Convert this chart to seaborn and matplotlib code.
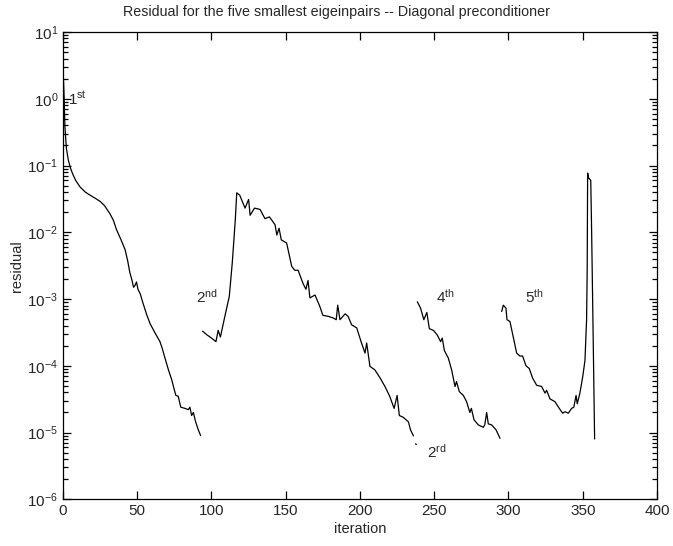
import matplotlib
matplotlib.use("Agg")
import numpy as np
import pandas as pd
import matplotlib.pyplot as plt
import matplotlib.ticker as mticker
import seaborn as sns

# residual history, one piece per eigenpair
it_1st = [0.3, 0.8, 1.3, 2.3, 3.6, 5, 6.5, 8.5, 11.4, 15, 18.2, 22, 25, 28, 31.6, 34, 36, 39, 41.8,
          43.5, 45, 46.5, 47.5, 48.5, 49.5, 50.5, 52, 54, 56.4, 58.6, 62, 65.3, 66.9, 68.7, 71,
          73.2, 74.7, 76, 77.6, 79.3, 82.2, 84.4, 85.5, 86.6, 87.8, 89.3, 91.1, 92.7]
res_1st = [2.0, 1.0, 0.38, 0.18, 0.12, 0.092, 0.075, 0.06, 0.048, 0.040, 0.036, 0.032, 0.029,
           0.025, 0.019, 0.015, 0.011, 0.0078, 0.0055, 0.0038, 0.0025, 0.0019, 0.0015, 0.0016,
           0.0018, 0.0014, 0.0012, 0.00085, 0.00058, 0.00043, 0.00031, 0.00023, 0.00018,
           0.00013, 8.7e-5, 6.2e-5, 4.6e-5, 3.6e-5, 3.5e-5, 2.4e-5, 2.3e-5, 2.2e-5, 2.4e-5,
           1.8e-5, 2.0e-5, 1.45e-5, 1.1e-5, 9.0e-6]

it_2nd = [94, 97, 100, 103, 104.5, 106, 109, 112, 114, 116, 117, 119, 122.6, 125, 126, 129,
          132.7, 136, 139, 142.8, 144, 145.5, 147, 150.6, 154, 156, 158.3, 161.7, 163.6, 165,
          166.3, 169.7, 173, 175, 178.7, 182, 184, 185, 186.5, 190, 192, 194.4, 197.8, 201,
          203.4, 204.5, 206.7, 210, 213.5, 216.8, 220, 223, 225, 226.5, 229, 232.6, 234, 236]
res_2nd = [3.3e-4, 2.9e-4, 2.6e-4, 2.3e-4, 3.4e-4, 2.7e-4, 5.5e-4, 1.1e-3, 3.5e-3, 0.015,
           0.039, 0.036, 0.023, 0.031, 0.018, 0.023, 0.022, 0.016, 0.017, 0.013, 0.0091,
           0.0115, 0.0077, 0.0069, 0.0031, 0.0027, 0.0027, 0.0017, 0.0014, 0.0019, 0.00104,
           0.00115, 0.00077, 0.00057, 0.00055, 0.00052, 0.00049, 0.00081, 0.00049, 0.0006,
           0.00055, 0.00041, 0.00037, 0.00022, 0.000155, 0.00022, 9.8e-5, 8.7e-5, 6.6e-5,
           4.9e-5, 3.5e-5, 2.3e-5, 3.6e-5, 1.8e-5, 1.7e-5, 1.45e-5, 1.1e-5, 8.9e-6]

it_3rd = [237.5, 237.9]
res_3rd = [6.8e-6, 6.6e-6]

it_4th = [238.6, 240.8, 243, 245, 246.7, 249.4, 252, 254.3, 255.4, 256.8, 259.5, 261.7, 264,
          265, 266.9, 269.6, 271.8, 274, 275, 276.8, 279.7, 283, 284, 285.3, 286.4, 288.7,
          291.6, 294.3]
res_4th = [9.1e-4, 7.3e-4, 4.9e-4, 6.3e-4, 3.6e-4, 3.4e-4, 2.9e-4, 2.3e-4, 2.6e-4, 1.7e-4,
           1.3e-4, 8.7e-5, 4.9e-5, 5.8e-5, 4.1e-5, 3.6e-5, 2.9e-5, 2.0e-5, 2.3e-5, 1.55e-5,
           1.3e-5, 1.2e-5, 1.3e-5, 2.0e-5, 1.35e-5, 1.3e-5, 1.1e-5, 8.2e-6]

it_5th = [295.4, 296.5, 298.3, 299, 301, 303.2, 305.5, 307.7, 309.5, 311.8, 314, 316.3, 319,
          322.3, 324.6, 325.7, 327.9, 331.3, 334.2, 336.5, 338, 340.3, 342.5, 344, 345.5,
          346.3, 348.1, 350, 351.5, 352.6, 353, 353.3, 354, 355.4, 356, 357, 358]
res_5th = [6.5e-4, 8.1e-4, 7.3e-4, 4.9e-4, 4.6e-4, 2.7e-4, 1.55e-4, 1.4e-4, 1.4e-4, 1.0e-4,
           9.1e-5, 6.5e-5, 5.1e-5, 4.9e-5, 3.9e-5, 4.3e-5, 3.2e-5, 2.9e-5, 2.3e-5, 1.95e-5,
           2.05e-5, 1.95e-5, 2.3e-5, 2.4e-5, 3.6e-5, 2.7e-5, 3.9e-5, 6.9e-5, 1.2e-4, 4.9e-4,
           2.7e-3, 0.077, 0.065, 0.060, 0.01, 3.0e-4, 8.0e-6]

labels = ["1$^{\\rm st}$", "2$^{\\rm nd}$", "2$^{\\rm rd}$", "4$^{\\rm th}$", "5$^{\\rm th}$"]
label_x = [3.6, 89.6, 245, 251, 311]
label_y = [1.0, 1.07e-3, 5.1e-6, 1.07e-3, 1.07e-3]

pieces = [(it_1st, res_1st), (it_2nd, res_2nd), (it_3rd, res_3rd), (it_4th, res_4th), (it_5th, res_5th)]
df = pd.concat([pd.DataFrame({"iteration": x, "residual": y, "piece": i})
                for i, (x, y) in enumerate(pieces)], ignore_index=True)

sns.set_style("ticks")
plt.rcParams["font.family"] = ["Liberation Sans", "DejaVu Sans"]
plt.rcParams["mathtext.fontset"] = "custom"
plt.rcParams["mathtext.rm"] = "Liberation Sans"
plt.rcParams["mathtext.it"] = "Liberation Sans"

fig = plt.figure(figsize=(6.73, 5.46), dpi=100)
ax = fig.add_axes([0.0936, 0.0855, 0.8826, 0.8559])

sns.lineplot(data=df, x="iteration", y="residual", units="piece", estimator=None,
             sort=False, color="black", linewidth=0.9, ax=ax)

for t, x, y in zip(labels, label_x, label_y):
    ax.text(x, y, t, fontsize=11, ha="left", va="center")

ax.set_yscale("log")
ax.set_xlim(0, 400)
ax.set_ylim(1e-6, 10)
ax.set_xticks(np.arange(0, 401, 50))
ax.set_yticks([10.0 ** e for e in range(-6, 2)])
ax.set_yticks([k * 10.0 ** e for e in range(-6, 1) for k in range(2, 10)], minor=True)
ax.yaxis.set_minor_formatter(mticker.NullFormatter())
ax.tick_params(which="both", direction="in", top=True, right=True, left=True,
               bottom=True, labelsize=11, color="black")
ax.tick_params(which="major", length=6, width=0.9)
ax.tick_params(axis="y", which="minor", length=3.5, width=0.9, left=True, right=True)
for s in ax.spines.values():
    s.set_linewidth(0.9)
    s.set_color("black")
    s.set_visible(True)

ax.set_xlabel("iteration", fontsize=10.5, labelpad=3)
ax.set_ylabel("residual", fontsize=10.5, labelpad=2)
fig.text(0.5, 0.978, "Residual for the five smallest eigeinpairs -- Diagonal preconditioner",
         fontsize=10.3, ha="center", va="center")

fig.savefig("out.png", dpi=100)
